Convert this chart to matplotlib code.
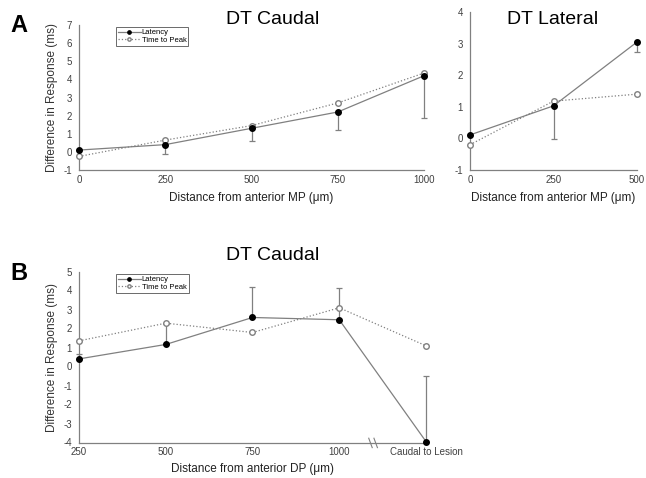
import numpy as np
from matplotlib import pyplot as plt

plt.rcParams['font.family'] = ['Liberation Sans', 'DejaVu Sans']
plt.rcParams['axes.unicode_minus'] = False

# panel A, DT caudal
a_dist = [0, 250, 500, 750, 1000]
a_lat = [0.1, 0.4, 1.3, 2.2, 4.2]
a_lat_err = [0.0, 0.5, 0.7, 1.0, 2.35]
a_ttp = [-0.25, 0.65, 1.45, 2.7, 4.35]

# panel A, DT lateral
l_dist = [0, 250, 500]
l_lat = [0.11, 1.03, 3.05]
l_lat_err = [0.0, 1.05, 0.32]
l_ttp = [-0.2, 1.18, 1.4]

# panel B, DT caudal (DP)
b_labels = ['250', '500', '750', '1000', 'Caudal to Lesion']
b_lat = [0.4, 1.16, 2.58, 2.46, -3.95]
b_lat_err = [0.28, 1.1, 1.6, 1.65, 3.45]
b_ttp = [1.35, 2.28, 1.79, 3.09, 1.09]

gray = '#808080'
tickc = '#404040'

def style(ax):
    for s in ['top', 'right']:
        ax.spines[s].set_visible(False)
    for s in ['left', 'bottom']:
        ax.spines[s].set_color(gray)
        ax.spines[s].set_linewidth(0.9)
    ax.tick_params(length=0, labelsize=7, colors=tickc)
    ax.tick_params(axis='x', pad=3.5)
    ax.tick_params(axis='y', pad=5)

def series(ax, x, lat, ttp, yerr, uplims=False):
    if uplims:
        err = [np.zeros(len(yerr)), yerr]
    else:
        err = [yerr, np.zeros(len(yerr))]
    ax.errorbar(x, lat, yerr=err, fmt='none', ecolor=gray, elinewidth=0.9,
                capsize=2.5, capthick=0.9, clip_on=False, zorder=2)
    ax.plot(x, lat, '-', color=gray, lw=0.9, marker='o', ms=4,
            mfc='black', mec='black', clip_on=False, zorder=4, label='Latency')
    ax.plot(x, ttp, ':', color=gray, lw=0.9, marker='o', ms=4,
            mfc='white', mec=gray, clip_on=False, zorder=3, label='Time to Peak')

def legend(ax):
    leg = ax.legend(loc='upper left', bbox_to_anchor=(0.107, 0.985), fontsize=5.5,
                    frameon=True, fancybox=False, borderpad=0.25, handlelength=3.0,
                    labelspacing=0.05, borderaxespad=0, handletextpad=0.1,
                    markerscale=0.6)
    leg.get_frame().set_edgecolor('#444444')
    leg.get_frame().set_linewidth(0.7)

fig = plt.figure(figsize=(6.46, 4.78), dpi=100)

# A left
ax1 = fig.add_axes([79/646, 1-170/478, 345/646, 145/478])
series(ax1, a_dist, a_lat, a_ttp, a_lat_err)
ax1.set_xlim(0, 1000)
ax1.set_ylim(-1, 7)
ax1.set_xticks(a_dist)
ax1.set_yticks(range(-1, 8))
style(ax1)
ax1.set_ylabel('Difference in Response (ms)', fontsize=8.5, color='#333333', labelpad=4)
ax1.set_xlabel('Distance from anterior MP (\u03bcm)', fontsize=8.5, color='#222222', labelpad=5)
legend(ax1)

# A right
ax2 = fig.add_axes([470/646, 1-170/478, 167/646, 158/478])
series(ax2, l_dist, l_lat, l_ttp, l_lat_err)
ax2.set_xlim(0, 500)
ax2.set_ylim(-1, 4)
ax2.set_xticks(l_dist)
ax2.set_yticks(range(-1, 5))
style(ax2)
ax2.set_xlabel('Distance from anterior MP (\u03bcm)', fontsize=8.5, color='#222222', labelpad=5)

# B
ax3 = fig.add_axes([79/646, 35.5/478, 347/646, 171/478])
bx = np.arange(len(b_labels))
series(ax3, bx, b_lat, b_ttp, b_lat_err, uplims=True)
ax3.set_xlim(0, len(b_labels) - 1)
ax3.set_ylim(-4, 5)
ax3.set_xticks(bx)
ax3.set_xticklabels(b_labels)
ax3.set_yticks(range(-4, 6))
style(ax3)
ax3.set_ylabel('Difference in Response (ms)', fontsize=8.5, color='#333333', labelpad=4)
ax3.set_xlabel('Distance from anterior DP (\u03bcm)', fontsize=8.5, color='#222222', labelpad=4)
legend(ax3)
# axis break between 1000 and caudal
tr = ax3.get_xaxis_transform()
for dx in (-0.03, 0.03):
    ax3.plot([3.39 + dx - 0.02, 3.39 + dx + 0.02], [0.025, -0.03], color=gray,
             lw=0.8, transform=tr, clip_on=False)

# titles and panel letters
fig.text(273/646, 1-20/478, 'DT Caudal', fontsize=14, ha='center', va='center')
fig.text(553/646, 1-20/478, 'DT Lateral', fontsize=14, ha='center', va='center')
fig.text(273/646, 1-255/478, 'DT Caudal', fontsize=14, ha='center', va='center')
fig.text(19/646, 1-26/478, 'A', fontsize=17, fontweight='bold', ha='center', va='center')
fig.text(19/646, 1-274/478, 'B', fontsize=17, fontweight='bold', ha='center', va='center')

fig.savefig('out.png', dpi=100)
